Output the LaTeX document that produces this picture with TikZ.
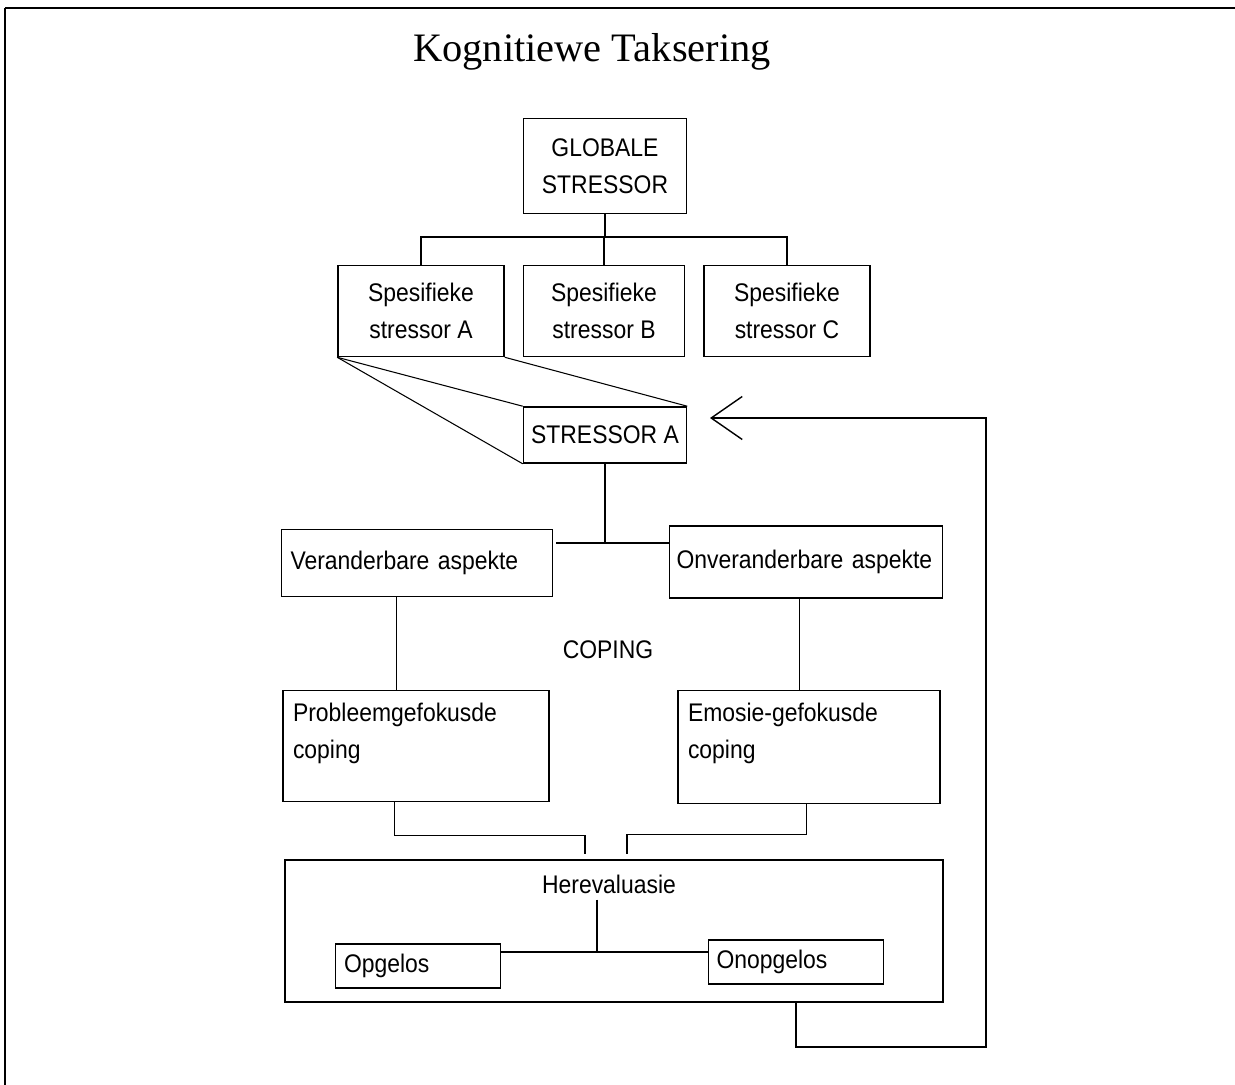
\documentclass[tikz,border=0pt]{standalone}
\usepackage{fontspec}
\setmainfont{Liberation Serif}
\newfontfamily\smalsans{Liberation Sans}[FakeStretch=0.9]
\usetikzlibrary{arrows.meta}
\newcommand{\blokletter}{\smalsans\fontsize{14.5pt}{21pt}\selectfont}

\begin{document}
\begin{tikzpicture}[x=0.02cm, y=-0.02cm,
    blok/.style={draw, line width=0.9pt, inner sep=0pt, align=center, font=\blokletter},
    lyn/.style={line width=0.6pt}]
        \useasboundingbox (0,0) rectangle (1235,1085);

        % raam
        \draw[line width=1.3pt] (5,8) -- (1235,8);
        \draw[line width=0.6pt] (5,8) -- (5,1085);

        % titel
        \node[inner sep=0pt, font=\fontsize{23pt}{27pt}\selectfont] (titel) at (592,52) {Kognitiewe Taksering};

        % stressors
        \node[blok, minimum width=3.26cm, minimum height=1.9cm] (glob) at (605,166) {GLOBALE\\STRESSOR};
        \node[blok, minimum width=3.32cm, minimum height=1.82cm] (spesA) at (421,311) {Spesifieke\\stressor A};
        \node[blok, minimum width=3.22cm, minimum height=1.82cm] (spesB) at (604,311) {Spesifieke\\stressor B};
        \node[blok, minimum width=3.32cm, minimum height=1.82cm] (spesC) at (787,311) {Spesifieke\\stressor C};
        \node[blok, minimum width=3.26cm, minimum height=1.12cm] (strA) at (605,435) {STRESSOR A};

        % aspekte
        \node[blok, align=left, inner xsep=0.18cm, text width=5.06cm, minimum height=1.34cm] (verand) at (417,563) {Veranderbare~aspekte};
        \node[blok, align=left, inner xsep=0.14cm, text width=5.18cm, minimum height=1.44cm] (onverand) at (806,562) {Onveranderbare~aspekte};

        % coping
        \node[font=\blokletter] (coping) at (608,650) {COPING};
        \node[blok, inner xsep=0.2cm, inner ysep=0.26cm] (probleem) at (416,746) {\parbox[c][1.7cm][t]{4.92cm}{Probleemgefokusde\\coping}};
        \node[blok, inner xsep=0.2cm, inner ysep=0.26cm] (emosie) at (809,747) {\parbox[c][1.74cm][t]{4.84cm}{Emosie-gefokusde\\coping}};

        % herevaluasie
        \node[blok, minimum width=13.16cm, minimum height=2.84cm] (hereval) at (614,931) {};
        \node[font=\blokletter] (hertxt) at (609,884) {Herevaluasie};
        \node[blok, align=left, inner xsep=0.17cm, text width=2.96cm, minimum height=0.88cm] (opg) at (418,966) {Opgelos};
        \node[blok, align=left, inner xsep=0.16cm, text width=3.18cm, minimum height=0.88cm] (onopg) at (796,962) {Onopgelos};

        % boom
        \coordinate (tak) at (605,237);
        \draw[lyn] (glob) -- (tak);
        \draw[lyn] (spesA.north) |- (tak) -| (spesC.north);
        \draw[lyn] (spesB.north) -- (spesB.north |- tak);

        % uitvergroting
        \draw[lyn] (spesA.south west) -- (strA.north west);
        \draw[lyn] (spesA.south west) -- (strA.south west);
        \draw[lyn] (spesA.south east) -- (strA.north east);

        % verbindings
        \coordinate (split) at (605,543);
        \draw[lyn] (strA.south) -- (split);
        \draw[lyn] ([xshift=0.06cm]verand.east |- split) -- (onverand.west |- split);
        \draw[lyn] ([xshift=-0.41cm]verand.south) -- ([xshift=-0.41cm]verand.south |- probleem.north);
        \draw[lyn] ([xshift=-0.13cm]onverand.south) -- ([xshift=-0.13cm]onverand.south |- emosie.north);
        \draw[lyn, shorten >=0.1cm] ([xshift=-0.43cm]probleem.south) -- ++(0,33) -| ([xshift=-0.58cm]hereval.north);
        \draw[lyn, shorten >=0.1cm] ([xshift=-0.05cm]emosie.south) -- ++(0,30) -| ([xshift=0.26cm]hereval.north);

        \coordinate (her) at (597,952);
        \draw[lyn] (hertxt.south -| her) -- (her);
        \draw[lyn] (opg.east |- her) -- (onopg.west |- her);

        % terugvoer
        \coordinate (pyl) at (710,418);
        \draw[lyn, -{Straight Barb[length=0.62cm, width=0.86cm, line width=0.8pt]}] (hereval.south -| onopg) |- (986,1047) |- (pyl);
    \end{tikzpicture}
\end{document}
